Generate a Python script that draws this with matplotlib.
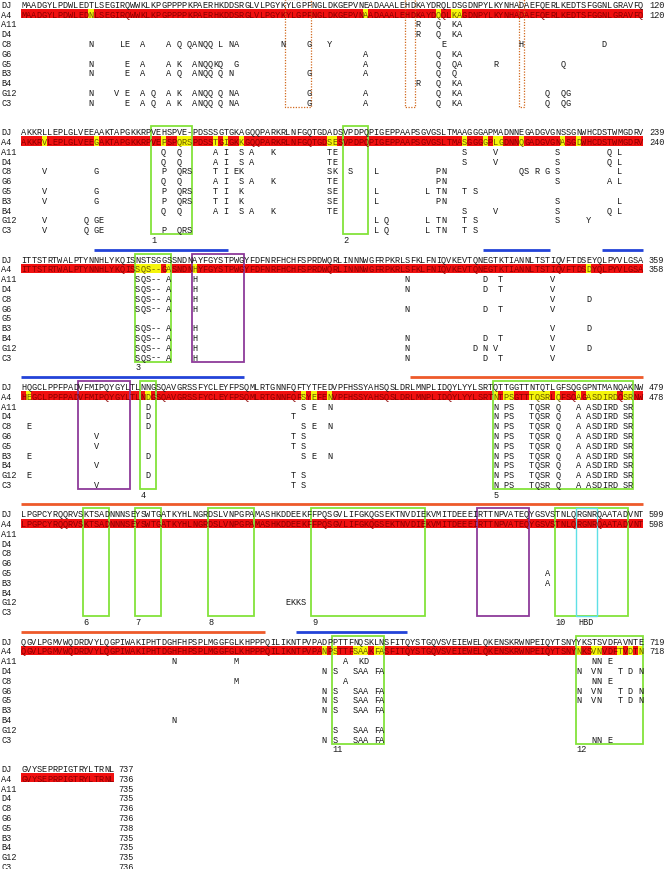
import matplotlib
matplotlib.use("Agg")
import matplotlib.pyplot as plt
from matplotlib.patches import Rectangle

# ---- alignment data (one entry per block of 120 columns) ----
LABELS = ["DJ", "A4", "A11", "D4", "C8", "G6", "G5", "B3", "B4", "G12", "C3"]

DJ_SEQ = [
    "MAADGYLPDWLEDTLSEGIRQWWKLKPGPPPPKPAERHKDDSRGLVLPGYKYLGPFNGLDKGEPVNEADAAALEHDKAYDRQLDSGDNPYLKYNHADAEFQERLKEDTSFGGNLGRAVFQ",
    "AKKRLLEPLGLVEEAAKTAPGKKRPVEHSPVE-PDSSSGTGKAGQQPARKRLNFGQTGDADSVPDPQPIGEPPAAPSGVGSLTMAAGGGAPMADNNEGADGVGNSSGNWHCDSTWMGDRV",
    "ITTSTRTWALPTYNNHLYKQISNSTSGGSSNDNAYFGYSTPWGYFDFNRFHCHFSPRDWQRLINNNWGFRPKRLSFKLFNIQVKEVTQNEGTKTIANNLTSTIQVFTDSEYQLPYVLGSA",
    "HQGCLPPFPADVFMIPQYGYLTLNNGSQAVGRSSFYCLEYFPSQMLRTGNNFQFTYTFEDVPFHSSYAHSQSLDRLMNPLIDQYLYYLSRTQTTGGTTNTQTLGFSQGGPNTMANQAKNW",
    "LPGPCYRQQRVSKTSADNNNSEYSWTGATKYHLNGRDSLVNPGPAMASHKDDEEKFFPQSGVLIFGKQGSEKTNVDIEKVMITDEEEIRTTNPVATEQYGSVSTNLQRGNRQAATADVNT",
    "QGVLPGMVWQDRDVYLQGPIWAKIPHTDGHFHPSPLMGGFGLKHPPPQILIKNTPVPADPPTTFNQSKLNSFITQYSTGQVSVEIEWELQKENSKRWNPEIQYTSNYYKSTSVDFAVNTE",
    "GVYSEPRPIGTRYLTRNL",
]
DJ_END = [120, 239, 359, 479, 599, 719, 737]
A4_END = [120, 240, 358, 478, 598, 718, 736]
LAST_END = [735, 735, 736, 736, 738, 735, 735, 735, 736]   # A11 ... C3

# residues that differ from DJ: (column, letters)
BOX5 = [(91, "N"), (93, "PS"), (98, "TQSR"), (103, "Q"), (107, "A"), (109, "ASDIRD"), (116, "SR")]

A4_DIFFS = [
    [(13, "N"), (66, "A"), (80, "Q"), (83, "KA")],
    [(4, "V"), (14, "G"), (27, "P"), (30, "QRS"), (37, "T"), (39, "I"), (42, "K"), (59, "SE"),
     (85, "S"), (89, "G"), (91, "LG"), (96, "Q"), (104, "A"), (107, "D")],
    [(22, "SQS--"), (28, "A"), (33, "H"), (109, "D")],
    [(1, "E"), (24, "D"), (54, "S"), (56, "E"), (59, "N")] + BOX5,
    [],
    [(58, "N"), (60, "S"), (64, "SAA"), (68, "FA"), (107, "N"), (110, "VN"), (115, "T"), (117, "D"), (119, "N")],
    [],
]
A11_DIFFS = [
    [(76, "R"), (80, "Q"), (83, "KA")],
    [(27, "Q"), (30, "Q"), (37, "A"), (39, "I"), (42, "S"), (44, "A"), (48, "K"), (59, "TE"), (85, "S"), (91, "V"), (103, "S"), (113, "Q"), (115, "L")],
    [(22, "SQS--"), (28, "A"), (33, "H"), (74, "N"), (89, "D"), (92, "T"), (102, "V")],
    [(24, "D"), (54, "S"), (56, "E"), (59, "N")] + BOX5,
    [],
    [(29, "N"), (41, "M"), (62, "A"), (65, "KD"), (110, "NN"), (113, "E")],
    [],
]
D4_DIFFS = [
    [(76, "R"), (80, "Q"), (83, "KA")],
    [(27, "Q"), (30, "Q"), (37, "A"), (39, "I"), (42, "S"), (44, "A"), (59, "TE"), (85, "S"), (91, "V"), (103, "S"), (113, "Q"), (115, "L")],
    [(22, "SQS--"), (28, "A"), (33, "H"), (74, "N"), (89, "D"), (92, "T"), (102, "V")],
    [(24, "D"), (52, "T")] + BOX5,
    [],
    [(58, "N"), (60, "S"), (64, "SAA"), (68, "FA"), (107, "N"), (110, "VN"), (115, "T"), (117, "D"), (119, "N")],
    [],
]
C8_DIFFS = [
    [(13, "N"), (19, "LE"), (23, "A"), (28, "A"), (30, "Q"), (32, "QANQQ"), (38, "L"), (40, "NA"), (50, "N"), (55, "G"), (59, "Y"), (81, "E"), (96, "H"), (112, "D")],
    [(4, "V"), (14, "G"), (27, "P"), (30, "QRS"), (37, "T"), (39, "I"), (41, "EK"), (59, "SK"), (63, "S"), (68, "L"), (80, "PN"), (96, "QS"), (99, "R"), (101, "G"), (103, "S"), (115, "L")],
    [(22, "SQS--"), (28, "A"), (33, "H"), (102, "V"), (109, "D")],
    [(1, "E"), (24, "D"), (54, "S"), (56, "E"), (59, "N")] + BOX5,
    [],
    [(41, "M"), (62, "A"), (110, "NN"), (113, "E")],
    [],
]
G6_DIFFS = [
    [(66, "A"), (80, "Q"), (83, "KA")],
    [(27, "Q"), (30, "Q"), (37, "A"), (39, "I"), (42, "S"), (44, "A"), (48, "K"), (59, "TE"), (80, "PN"), (103, "S"), (113, "A"), (115, "L")],
    [(22, "SQS--"), (28, "A"), (33, "H"), (74, "N"), (89, "D"), (92, "T"), (102, "V")],
    [(14, "V"), (52, "T"), (54, "S")] + BOX5,
    [],
    [(58, "N"), (60, "S"), (64, "SAA"), (68, "FA"), (107, "N"), (110, "VN"), (115, "T"), (117, "D"), (119, "N")],
    [],
]
G5_DIFFS = [
    [(13, "N"), (20, "E"), (23, "A"), (28, "A"), (30, "K"), (33, "ANQQKQ"), (41, "G"), (66, "A"), (80, "Q"), (83, "QA"), (91, "R"), (104, "Q")],
    [(4, "V"), (14, "G"), (27, "P"), (30, "QRS"), (37, "T"), (39, "I"), (42, "K"), (59, "SE"), (68, "L"), (78, "L"), (80, "TN"), (85, "T"), (87, "S")],
    [],
    [(14, "V"), (52, "T"), (54, "S")] + BOX5,
    [(101, "A")],
    [(58, "N"), (60, "S"), (64, "SAA"), (68, "FA"), (107, "N"), (110, "VN"), (115, "T"), (117, "D"), (119, "N")],
    [],
]
B3_DIFFS = [
    [(13, "N"), (20, "E"), (23, "A"), (28, "A"), (30, "Q"), (33, "ANQQ"), (38, "Q"), (40, "N"), (55, "G"), (66, "A"), (80, "Q"), (83, "Q")],
    [(4, "V"), (14, "G"), (27, "P"), (30, "QRS"), (37, "T"), (39, "I"), (42, "K"), (59, "SE"), (68, "L"), (80, "PN"), (103, "S"), (115, "L")],
    [(22, "SQS--"), (28, "A"), (33, "H"), (102, "V"), (109, "D")],
    [(1, "E"), (24, "D"), (54, "S"), (56, "E"), (59, "N")] + BOX5,
    [(101, "A")],
    [(58, "N"), (60, "S"), (64, "SAA"), (68, "FA")],
    [],
]
B4_DIFFS = [
    [(76, "R"), (80, "Q"), (83, "KA")],
    [(27, "Q"), (30, "Q"), (37, "A"), (39, "I"), (42, "S"), (44, "A"), (48, "K"), (59, "TE"), (85, "S"), (91, "V"), (103, "S"), (113, "Q"), (115, "L")],
    [(22, "SQS--"), (28, "A"), (33, "H"), (74, "N"), (89, "D"), (92, "T"), (102, "V")],
    [(14, "V")] + BOX5,
    [],
    [(29, "N")],
    [],
]
G12_DIFFS = [
    [(13, "N"), (18, "V"), (20, "E"), (23, "A"), (25, "Q"), (28, "A"), (30, "K"), (33, "ANQQ"), (38, "Q"), (40, "NA"), (55, "G"), (66, "A"), (80, "Q"), (83, "KA"), (101, "Q"), (104, "QG")],
    [(4, "V"), (12, "Q"), (14, "GE"), (68, "L"), (70, "Q"), (78, "L"), (80, "TN"), (85, "T"), (87, "S"), (103, "S"), (109, "Y")],
    [(22, "SQS--"), (28, "A"), (33, "H"), (74, "N"), (87, "D"), (89, "N"), (91, "V"), (102, "V"), (109, "D")],
    [(1, "E"), (24, "D"), (52, "T"), (54, "S")] + BOX5,
    [(51, "EKKS")],
    [(60, "S"), (64, "SAA"), (68, "FA")],
    [],
]
C3_DIFFS = [
    [(13, "N"), (20, "E"), (23, "A"), (25, "Q"), (28, "A"), (30, "K"), (33, "ANQQ"), (38, "Q"), (40, "NA"), (55, "G"), (66, "A"), (80, "Q"), (83, "KA"), (101, "Q"), (104, "QG")],
    [(4, "V"), (12, "Q"), (14, "GE"), (27, "P"), (30, "QRS"), (68, "L"), (70, "Q"), (78, "L"), (80, "TN"), (85, "T"), (87, "S")],
    [(22, "SQS--"), (28, "A"), (33, "H"), (74, "N"), (89, "D"), (92, "T"), (102, "V")],
    [(14, "V"), (52, "T"), (54, "S")] + BOX5,
    [],
    [(58, "N"), (60, "S"), (64, "SAA"), (68, "FA"), (110, "NN"), (113, "E")],
    [],
]
VARIANTS = [A11_DIFFS, D4_DIFFS, C8_DIFFS, G6_DIFFS, G5_DIFFS, B3_DIFFS, B4_DIFFS, G12_DIFFS, C3_DIFFS]

# annotated regions: (block, first column, last column, label)
GREEN_BOXES = [(1, 25, 32, "1"), (1, 62, 66, "2"), (2, 22, 28, "3"), (3, 23, 25, "4"),
               (3, 91, 117, "5"), (4, 12, 16, "6"), (4, 22, 26, "7"), (4, 36, 44, "8"),
               (4, 56, 77, "9"), (4, 103, 116, "10"), (5, 60, 69, "11"), (5, 107, 119, "12")]
PURPLE_BOXES = [(2, 33, 42), (3, 11, 20), (4, 88, 97)]
CYAN_BOXES = [(4, 107, 110, "HBD")]
DOTTED_BOXES = [(0, 51, 55), (0, 74, 75), (0, 96, 96)]
# bars above blocks: (block, start, end, colour)
BARS = [(2, 14, 40, "blue"), (2, 89, 102, "blue"), (2, 112, 120, "blue"),
        (3, 0, 43, "blue"), (3, 75, 120, "orange"),
        (4, 0, 120, "orange"),
        (5, 0, 47, "orange"), (5, 53, 74.5, "blue")]

BAR_COLORS = {"blue": "#2343d8", "orange": "#ee5a2a"}
RED = "#f01010"
YELLOW = "#f5f50a"
INK = "#1a1a1a"
FONT = dict(family="Liberation Mono", fontsize=6.2)


def row_y(block, row):
    return block * 13 + row + 0.5


def apply(seq, diffs):
    s = list(seq)
    for col, letters in diffs:
        for k, ch in enumerate(letters):
            s[col + k] = ch
    return s


def draw_chars(ax, chars, y, color):
    for i, ch in enumerate(chars):
        if ch != " ":
            ax.text(i, y + 0.3, ch, ha="center", va="baseline", color=color, **FONT)


fig = plt.figure(figsize=(6.64, 8.70), dpi=100)
ax = fig.add_axes([0, 0, 1, 1])
ax.set_xlim(-4.55, 123.5)
ax.set_ylim(88.8, 0)
ax.axis("off")

for b, dj in enumerate(DJ_SEQ):
    n = len(dj)
    num_x = 120.6 if n == 120 else n + 0.3
    # DJ
    y = row_y(b, 0)
    ax.text(-4.35, y + 0.3, "DJ", ha="left", va="baseline", color=INK, **FONT)
    draw_chars(ax, dj, y, INK)
    ax.text(num_x, y + 0.3, str(DJ_END[b]), ha="left", va="baseline", color=INK, **FONT)
    # A4, highlighted: red = same as DJ, yellow = differs
    y = row_y(b, 1)
    a4 = apply(dj, A4_DIFFS[b])
    ax.add_patch(Rectangle((-0.5, y - 0.47), n, 0.94, color=RED, lw=0))
    for i, ch in enumerate(a4):
        if ch != dj[i]:
            ax.add_patch(Rectangle((i - 0.5, y - 0.47), 1, 0.94, color=YELLOW, lw=0))
            ax.text(i, y + 0.3, ch, ha="center", va="baseline", color="#6b5a00", **FONT)
        else:
            ax.text(i, y + 0.3, ch, ha="center", va="baseline", color="#8b0000", **FONT)
    ax.text(-4.35, y + 0.3, "A4", ha="left", va="baseline", color=INK, **FONT)
    ax.text(num_x, y + 0.3, str(A4_END[b]), ha="left", va="baseline", color=INK, **FONT)
    # other clones
    for r, diffs in enumerate(VARIANTS):
        y = row_y(b, r + 2)
        ax.text(-4.35, y + 0.3, LABELS[r + 2], ha="left", va="baseline", color=INK, **FONT)
        draw_chars(ax, apply(" " * n, diffs[b]), y, INK)
        if n < 120:
            ax.text(num_x, y + 0.3, str(LAST_END[r]), ha="left", va="baseline", color=INK, **FONT)

# boxes span from the top of the DJ row to the bottom of the C3 row
for b, c0, c1, lab in GREEN_BOXES:
    top = row_y(b, 0) - 0.5
    ax.add_patch(Rectangle((c0 - 0.5, top), c1 - c0 + 1, 11, fill=False, ec="#84e33a", lw=1.3))
    ax.text(c0 - 0.4, row_y(b, 11) + 0.3, lab, ha="left", va="baseline", color=INK, **FONT)
for b, c0, c1 in PURPLE_BOXES:
    top = row_y(b, 0) - 0.5
    ax.add_patch(Rectangle((c0 - 0.5, top), c1 - c0 + 1, 11, fill=False, ec="#8e3a9a", lw=1.3))
for b, c0, c1, lab in CYAN_BOXES:
    top = row_y(b, 0) - 0.5
    ax.add_patch(Rectangle((c0 - 0.5, top), c1 - c0 + 1, 11, fill=False, ec="#5fe0e6", lw=1.0))
    ax.text((c0 + c1) / 2, row_y(b, 11) + 0.3, lab, ha="center", va="baseline", color=INK, **FONT)
for b, c0, c1 in DOTTED_BOXES:
    top = row_y(b, 0) - 0.45
    ax.add_patch(Rectangle((c0 - 0.5, top), c1 - c0 + 1, 10.95, fill=False, ec="#d2691e",
                           lw=0.9, ls=(0, (1, 1.2))))

for b, c0, c1, col in BARS:
    y = row_y(b, 0) - 0.92
    ax.plot([c0 - 0.5, c1 - 0.5], [y, y], color=BAR_COLORS[col], lw=2.0, solid_capstyle="butt")

fig.savefig("out.png", dpi=100, facecolor="white")
